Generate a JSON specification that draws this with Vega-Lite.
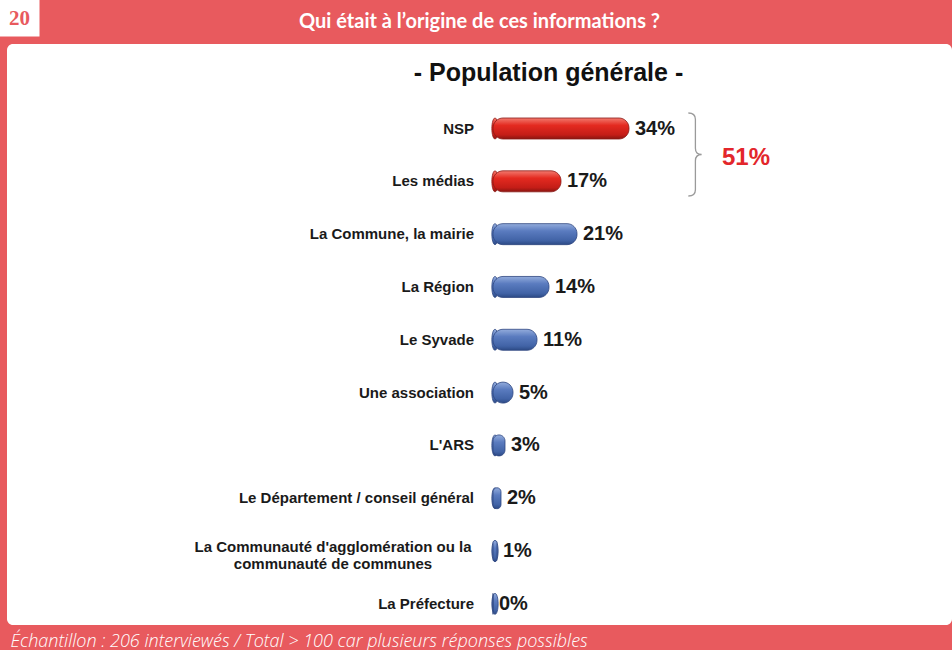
{
  "$schema": "https://vega.github.io/schema/vega-lite/v6.json",
  "width": 945,
  "height": 581,
  "autosize": {"type": "none"},
  "padding": {"left": 7, "top": 44, "right": 0, "bottom": 25},
  "background": "#E85A5E",
  "title": {
    "text": "Qui était à l’origine de ces informations ?",
    "anchor": "middle",
    "frame": "group",
    "offset": 0,
    "dy": 45,
    "baseline": "middle",
    "color": "white",
    "font": "Lato",
    "fontSize": 20,
    "fontWeight": "bold"
  },
  "data": {
    "values": [
      {"source": "NSP", "share": 0.34, "group": "total"},
      {"source": "Les médias", "share": 0.17, "group": "total"},
      {"source": "La Commune, la mairie", "share": 0.21, "group": "autre"},
      {"source": "La Région", "share": 0.14, "group": "autre"},
      {"source": "Le Syvade", "share": 0.11, "group": "autre"},
      {"source": "Une association", "share": 0.05, "group": "autre"},
      {"source": "L'ARS", "share": 0.03, "group": "autre"},
      {"source": "Le Département / conseil général", "share": 0.02, "group": "autre"},
      {"source": "La Communauté d'agglomération ou la\ncommunauté de communes", "share": 0.01, "group": "autre"},
      {"source": "La Préfecture", "share": 0.0, "group": "autre"}
    ]
  },
  "layer": [
    {
      "transform": [{"filter": "datum.group === 'total'"}],
      "mark": {
        "type": "point",
        "shape": "M0,-1 A0.3,1 0 1,0 0,1 A0.3,1 0 1,0 0,-1 Z",
        "size": 441,
        "filled": true,
        "opacity": 1,
        "xOffset": 2,
        "fill": {"gradient": "linear", "x1": 0, "y1": 0, "x2": 0, "y2": 1, "stops": [{"offset": 0, "color": "#f27a6e"}, {"offset": 0.35, "color": "#e42a20"}, {"offset": 0.8, "color": "#c41d17"}, {"offset": 1, "color": "#8a1510"}]},
        "stroke": "#8a1a16",
        "strokeWidth": 0.8
      },
      "encoding": {
        "x": {"datum": 0, "type": "quantitative", "scale": {"domain": [-1.215, 1.1475], "nice": false, "zero": false}},
        "y": {"field": "source", "type": "nominal", "scale": {"type": "point", "domain": ["NSP", "Les médias", "La Commune, la mairie", "La Région", "Le Syvade", "Une association", "L'ARS", "Le Département / conseil général", "La Communauté d'agglomération ou la\ncommunauté de communes", "La Préfecture"], "padding": 1.051, "align": 0.8}}
      }
    },
    {
      "transform": [{"filter": "datum.group === 'autre'"}],
      "mark": {
        "type": "point",
        "shape": "M0,-1 A0.3,1 0 1,0 0,1 A0.3,1 0 1,0 0,-1 Z",
        "size": 441,
        "filled": true,
        "opacity": 1,
        "xOffset": 2,
        "fill": {"gradient": "linear", "x1": 0, "y1": 0, "x2": 0, "y2": 1, "stops": [{"offset": 0, "color": "#93acdc"}, {"offset": 0.35, "color": "#5a7bbf"}, {"offset": 0.8, "color": "#4163a6"}, {"offset": 1, "color": "#2c4a85"}]},
        "stroke": "#2e4680",
        "strokeWidth": 0.8
      },
      "encoding": {
        "x": {"datum": 0, "type": "quantitative"},
        "y": {"field": "source", "type": "nominal"}
      }
    },
    {
      "transform": [{"filter": "datum.group === 'total'"}],
      "mark": {
        "type": "bar",
        "size": 21,
        "cornerRadius": 10,
        "fill": {"gradient": "linear", "x1": 0, "y1": 0, "x2": 0, "y2": 1, "stops": [{"offset": 0, "color": "#f27a6e"}, {"offset": 0.35, "color": "#e42a20"}, {"offset": 0.8, "color": "#c41d17"}, {"offset": 1, "color": "#8a1510"}]},
        "stroke": "#8a1a16",
        "strokeWidth": 0.8
      },
      "encoding": {
        "x": {"field": "share", "type": "quantitative", "title": "- Population générale -", "axis": {"orient": "top", "titleX": 541, "titleY": 28}},
        "x2": {"datum": 0},
        "y": {"field": "source", "type": "nominal", "title": "Échantillon : 206 interviewés / Total > 100 car plusieurs réponses possibles", "axis": {"titleX": 3, "titleY": 602}}
      }
    },
    {
      "transform": [{"filter": "datum.group === 'autre'"}],
      "mark": {
        "type": "bar",
        "size": 21,
        "cornerRadius": 10,
        "fill": {"gradient": "linear", "x1": 0, "y1": 0, "x2": 0, "y2": 1, "stops": [{"offset": 0, "color": "#93acdc"}, {"offset": 0.35, "color": "#5a7bbf"}, {"offset": 0.8, "color": "#4163a6"}, {"offset": 1, "color": "#2c4a85"}]},
        "stroke": "#2e4680",
        "strokeWidth": 0.8
      },
      "encoding": {
        "x": {"field": "share", "type": "quantitative"},
        "x2": {"datum": 0},
        "y": {"field": "source", "type": "nominal"}
      }
    },
    {
      "mark": {"type": "text", "align": "left", "baseline": "middle", "dx": 6, "font": "Liberation Sans", "fontSize": 20, "fontWeight": "bold", "color": "#1a1a1a"},
      "encoding": {
        "x": {"field": "share", "type": "quantitative"},
        "y": {"field": "source", "type": "nominal"},
        "text": {"field": "share", "type": "quantitative", "format": ".0%"}
      }
    },
    {
      "transform": [{"filter": "indexof(datum.source, '\\n') < 0"}],
      "mark": {"type": "text", "align": "right", "baseline": "middle", "dx": -19, "font": "Liberation Sans", "fontSize": 15, "fontWeight": "bold", "color": "#1a1a1a"},
      "encoding": {
        "x": {"datum": 0, "type": "quantitative"},
        "y": {"field": "source", "type": "nominal"},
        "text": {"field": "source", "type": "nominal"}
      }
    },
    {
      "transform": [{"filter": "indexof(datum.source, '\\n') >= 0"}],
      "mark": {"type": "text", "align": "center", "baseline": "middle", "dx": -160, "dy": -4, "lineBreak": "\n", "lineHeight": 17, "font": "Liberation Sans", "fontSize": 15, "fontWeight": "bold", "color": "#1a1a1a"},
      "encoding": {
        "x": {"datum": 0, "type": "quantitative"},
        "y": {"field": "source", "type": "nominal"},
        "text": {"field": "source", "type": "nominal"}
      }
    },
    {
      "transform": [{"filter": "datum.source === 'NSP'"}],
      "mark": {
        "type": "point",
        "shape": "M-0.17,-1 Q0,-1 0,-0.85 L0,-0.15 Q0,0 0.15,0 Q0,0 0,0.15 L0,0.85 Q0,1 -0.17,1",
        "size": 6889,
        "filled": false,
        "opacity": 1,
        "stroke": "#9a9a9a",
        "strokeWidth": 1.3,
        "yOffset": 26
      },
      "encoding": {
        "x": {"datum": 0.506, "type": "quantitative"},
        "y": {"field": "source", "type": "nominal"}
      }
    },
    {
      "transform": [{"filter": "datum.source === 'NSP'"}],
      "mark": {"type": "text", "text": "51%", "align": "left", "baseline": "middle", "dy": 29, "font": "Liberation Sans", "fontSize": 24, "fontWeight": "bold", "color": "#e3262b"},
      "encoding": {
        "x": {"datum": 0.5725, "type": "quantitative"},
        "y": {"field": "source", "type": "nominal"}
      }
    },
    {
      "transform": [{"filter": "datum.source === 'NSP'"}],
      "mark": {"type": "point", "shape": "square", "size": 1600, "filled": true, "opacity": 1, "color": "white", "strokeWidth": 0, "yOffset": -112, "clip": false},
      "encoding": {
        "x": {"datum": -1.18375, "type": "quantitative"},
        "y": {"field": "source", "type": "nominal"}
      }
    },
    {
      "transform": [{"filter": "datum.source === 'NSP'"}],
      "mark": {"type": "text", "text": "20", "align": "center", "baseline": "middle", "dy": -110, "font": "Liberation Serif", "fontSize": 21, "fontWeight": "bold", "color": "#e85a5e", "clip": false},
      "encoding": {
        "x": {"datum": -1.18375, "type": "quantitative"},
        "y": {"field": "source", "type": "nominal"}
      }
    }
  ],
  "config": {
    "view": {"fill": "white", "stroke": null, "cornerRadius": 6},
    "font": "Liberation Sans",
    "axis": {"labels": false, "ticks": false, "domain": false, "grid": false},
    "axisX": {"titleAlign": "center", "titleBaseline": "middle", "titleFont": "Liberation Sans", "titleFontSize": 25, "titleFontWeight": "bold", "titleColor": "#111111"},
    "axisY": {"titleAngle": 0, "titleAlign": "left", "titleBaseline": "alphabetic", "titleFont": "Open Sans", "titleFontStyle": "italic", "titleFontWeight": 300, "titleFontSize": 18, "titleColor": "white"}
  }
}
